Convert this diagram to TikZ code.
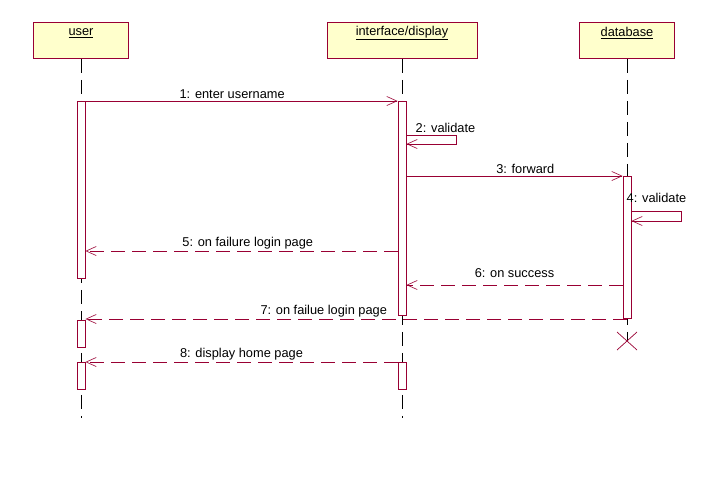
\documentclass[tikz,border=0pt]{standalone}
\usepackage{fontspec}
\setmainfont{Liberation Sans}
\usetikzlibrary{arrows.meta}
\definecolor{umlred}{HTML}{990033}
\definecolor{umlfill}{HTML}{FFFFCC}
\begin{document}
\begin{tikzpicture}
[x=1pt,y=-1pt,%
 font=\fontsize{12.8}{15}\selectfont,%
 objstyle/.style={draw=umlred,fill=umlfill,line width=0.9pt,minimum width=#1,minimum height=36pt,anchor=north,inner sep=0pt},%
 lifestyle/.style={line width=0.8pt,dash pattern=on 14pt off 7pt},%
 actstyle/.style={draw=umlred,fill=white,line width=0.9pt,minimum width=8pt,minimum height=#1,anchor=north,inner sep=0pt},%
 callstyle/.style={umlred,line width=0.8pt,-{Straight Barb[length=10pt,width=9pt,line width=0.6pt]}},%
 retstyle/.style={callstyle,dash pattern=on 14pt off 7pt},%
 labelstyle/.style={text=black,inner sep=1.5pt}]
\useasboundingbox (0,0) rectangle (721,482);
%% objects
\node[objstyle=95pt] (user) at (81,22) {};
\node[objstyle=150pt] (ui) at (402,22) {};
\node[objstyle=95pt] (db) at (627,22) {};
\node at ([yshift=-11pt]user.north) {\underline{user}};
\node at ([yshift=-11pt]ui.north) {\underline{interface/display}};
\node at ([yshift=-11pt]db.north) {\underline{database}};
%% lifelines
\coordinate (userend) at (81,418);
\coordinate (uiend) at (402,418);
\coordinate (dbend) at (627,341);
\draw[lifestyle] (user.south) -- (userend);
\draw[lifestyle] (ui.south) -- (uiend);
\draw[lifestyle] (db.south) -- (dbend);
%% activations
\node[actstyle=177pt] (u1) at (81,101) {};
\node[actstyle=27pt] (u2) at (81,320) {};
\node[actstyle=27pt] (u3) at (81,362) {};
\node[actstyle=214pt] (i1) at (402,101) {};
\node[actstyle=27pt] (i2) at (402,362) {};
\node[actstyle=142pt] (d1) at (627,176) {};
%% destruction
\draw[umlred,line width=0.7pt] (dbend) +(-10,-9) -- +(10,9) (dbend) +(10,-9) -- +(-10,9);
%% messages
\draw[callstyle] (u1.north east) -- (i1.north west)
  node[labelstyle,pos=0.47,above]{1: enter username};
\coordinate (s2a) at (i1.east |- 0,135);
\coordinate (s2b) at (i1.east |- 0,144);
\draw[callstyle] (s2a) -- ++(50,0) |- (s2b);
\node[labelstyle,anchor=south west] at (414,134) {2: validate};
\draw[callstyle] (i1.east |- d1.north) -- (d1.north west)
  node[labelstyle,pos=0.55,above]{3: forward};
\coordinate (s4a) at (d1.east |- 0,211);
\coordinate (s4b) at (d1.east |- 0,221);
\draw[callstyle] (s4a) -- ++(50,0) |- (s4b);
\node[labelstyle,anchor=south west] at (625,204) {4: validate};
\draw[retstyle] (i1.west |- 0,251) -- (u1.east |- 0,251)
  node[labelstyle,pos=0.48,above]{5: on failure login page};
\draw[retstyle] (d1.west |- 0,285) -- (i1.east |- 0,285)
  node[labelstyle,midway,above=5pt]{6: on success};
\draw[retstyle] (d1.south |- 0,319) -- (u2.east |- 0,319)
  node[labelstyle,pos=0.56,above]{7: on failue login page};
\draw[retstyle] (i2.north west) -- (u3.north east)
  node[labelstyle,midway,above]{8: display home page};
\end{tikzpicture}
\end{document}
